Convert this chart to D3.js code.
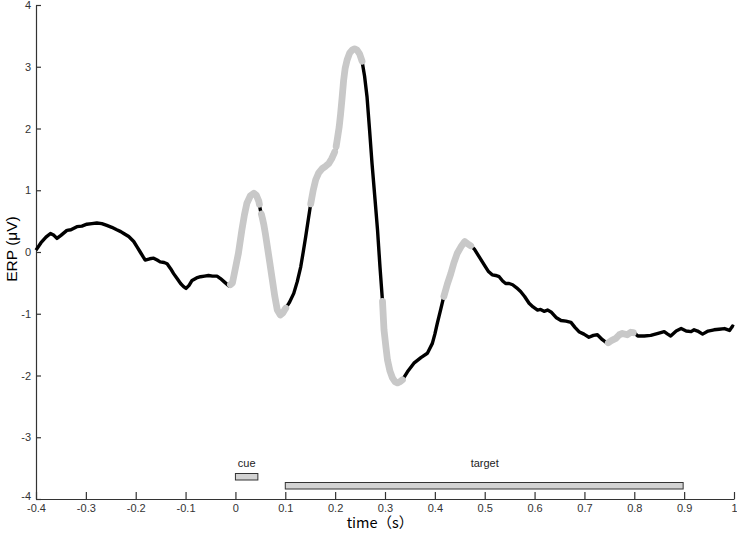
<!DOCTYPE html>
<html>
<head>
<meta charset="utf-8">
<script src="https://cdn.jsdelivr.net/npm/d3@7"></script>
<style>
  html, body { margin: 0; padding: 0; background: #fff; }
  svg { display: block; }
</style>
</head>
<body>
<svg id="chart" width="737" height="534"></svg>
<script>
// ---- data ----
const times = [
  -0.400,-0.390,-0.380,-0.371,-0.364,-0.358,-0.350,-0.338,-0.330,-0.318,-0.308,-0.298,-0.288,-0.278,-0.268,-0.258,-0.248,-0.238,-0.230,-0.224,
  -0.214,-0.204,-0.197,-0.191,-0.185,-0.181,-0.172,-0.164,-0.157,-0.151,-0.143,-0.137,-0.130,-0.124,-0.117,-0.110,-0.104,-0.099,-0.093,-0.087,
  -0.078,-0.070,-0.062,-0.054,-0.046,-0.037,-0.030,-0.023,-0.013,-0.006,0.000,0.006,0.013,0.018,0.023,0.030,0.037,0.042,0.047,0.050,
  0.054,0.057,0.060,0.064,0.069,0.074,0.079,0.084,0.090,0.095,0.100,0.108,0.117,0.124,0.131,0.136,0.141,0.146,0.151,0.156,
  0.161,0.167,0.174,0.181,0.187,0.193,0.197,0.201,0.204,0.208,0.211,0.214,0.217,0.220,0.224,0.229,0.234,0.239,0.244,0.249,
  0.254,0.259,0.264,0.269,0.274,0.280,0.285,0.290,0.295,0.298,0.302,0.305,0.310,0.315,0.320,0.325,0.330,0.335,0.345,0.358,
  0.372,0.385,0.395,0.400,0.405,0.412,0.418,0.425,0.432,0.438,0.445,0.452,0.460,0.466,0.472,0.479,0.489,0.499,0.507,0.515,
  0.522,0.529,0.536,0.542,0.549,0.556,0.564,0.572,0.580,0.589,0.597,0.606,0.612,0.619,0.626,0.633,0.643,0.653,0.663,0.673,
  0.681,0.689,0.699,0.709,0.718,0.726,0.736,0.746,0.755,0.763,0.770,0.776,0.786,0.793,0.800,0.807,0.820,0.833,0.846,0.860,
  0.867,0.873,0.884,0.894,0.904,0.914,0.920,0.927,0.937,0.948,0.960,0.970,0.981,0.991,0.997,1.000
];
const erp = [
  0.03,0.15,0.24,0.30,0.27,0.22,0.27,0.35,0.36,0.41,0.42,0.45,0.46,0.47,0.46,0.43,0.40,0.36,0.33,0.30,
  0.25,0.17,0.08,0.00,-0.08,-0.13,-0.11,-0.10,-0.13,-0.16,-0.17,-0.19,-0.27,-0.35,-0.43,-0.51,-0.56,-0.59,-0.54,-0.46,
  -0.42,-0.40,-0.39,-0.38,-0.39,-0.39,-0.43,-0.48,-0.55,-0.50,-0.26,-0.02,0.36,0.60,0.79,0.91,0.95,0.92,0.82,0.68,
  0.55,0.44,0.30,0.09,-0.18,-0.45,-0.72,-0.94,-1.02,-0.99,-0.92,-0.82,-0.67,-0.48,-0.24,0.00,0.25,0.52,0.78,1.00,
  1.17,1.28,1.35,1.39,1.43,1.51,1.58,1.66,1.81,2.02,2.24,2.50,2.78,2.97,3.11,3.22,3.27,3.29,3.27,3.21,
  3.09,2.85,2.51,1.98,1.43,0.85,0.36,-0.25,-0.80,-1.26,-1.55,-1.75,-1.93,-2.04,-2.10,-2.12,-2.10,-2.07,-1.94,-1.80,
  -1.71,-1.64,-1.48,-1.33,-1.15,-0.92,-0.72,-0.52,-0.35,-0.18,-0.02,0.08,0.17,0.13,0.10,0.05,-0.08,-0.21,-0.31,-0.37,
  -0.38,-0.40,-0.47,-0.51,-0.51,-0.53,-0.58,-0.64,-0.72,-0.83,-0.89,-0.94,-0.93,-0.96,-0.94,-0.97,-1.06,-1.11,-1.12,-1.14,
  -1.22,-1.29,-1.33,-1.38,-1.35,-1.34,-1.42,-1.48,-1.43,-1.40,-1.34,-1.32,-1.34,-1.30,-1.31,-1.36,-1.36,-1.35,-1.32,-1.29,
  -1.33,-1.36,-1.28,-1.24,-1.28,-1.29,-1.26,-1.28,-1.33,-1.28,-1.26,-1.25,-1.24,-1.27,-1.20,-1.21
];
// significant intervals (drawn in light gray)
const sigStart = [-0.010, 0.052, 0.151, 0.202, 0.295, 0.418, 0.748];
const sigEnd   = [ 0.048, 0.101, 0.199, 0.254, 0.335, 0.472, 0.798];
// stimulus events
const eventNames = ["cue", "target"];
const eventStart = [0.0, 0.1];
const eventEnd   = [0.045, 0.898];
const xTicks = [-0.4,-0.3,-0.2,-0.1,0,0.1,0.2,0.3,0.4,0.5,0.6,0.7,0.8,0.9,1];
const yTicks = [-4,-3,-2,-1,0,1,2,3,4];

// ---- layout ----
const svg = d3.select("#chart");
const L = 36, R = 734, T = 5, B = 499;
const x = d3.scaleLinear().domain([-0.4, 1]).range([L, R]);
const y = d3.scaleLinear().domain([-4, 4]).range([B, T]);

const pts = times.map((t, i) => ({t: t, v: erp[i]}));
const line = d3.line().x(d => x(d.t)).y(d => y(d.v));

function valAt(t) {
  for (let i = 1; i < pts.length; i++) {
    if (pts[i].t >= t) {
      const a = pts[i-1], b = pts[i];
      const f = (t - a.t) / (b.t - a.t);
      return a.v + f * (b.v - a.v);
    }
  }
  return pts[pts.length-1].v;
}

// axes
const fmt = d => String(+d.toFixed(1));
const axisFont = "'Liberation Sans', Arial, sans-serif";

const gx = svg.append("g").attr("transform", `translate(0,${B})`)
  .call(d3.axisBottom(x).tickValues(xTicks).tickFormat(fmt)
        .tickSizeInner(-7).tickSizeOuter(0).tickPadding(5));
const gy = svg.append("g").attr("transform", `translate(${L},0)`)
  .call(d3.axisLeft(y).tickValues(yTicks).tickFormat(fmt)
        .tickSizeInner(-5).tickSizeOuter(0).tickPadding(5));
[gx, gy].forEach(g => {
  g.select(".domain").attr("stroke", "#333").attr("stroke-width", 1.2);
  g.selectAll(".tick line").attr("stroke", "#333").attr("stroke-width", 1.2);
  g.selectAll(".tick text").attr("fill", "#333")
    .style("font-family", axisFont).style("font-size", "11px");
});
// lowest y label sits slightly above the corner, as in the original
gy.selectAll(".tick").filter(d => d === -4).select("text").attr("dy", "0.05em");

// black waveform
svg.append("path").datum(pts)
  .attr("d", line)
  .attr("fill", "none")
  .attr("stroke", "#000")
  .attr("stroke-width", 3.4)
  .attr("stroke-linejoin", "round");

// gray significant segments
sigStart.forEach((s, i) => {
  const e = sigEnd[i];
  const seg = [{t: s, v: valAt(s)}]
    .concat(pts.filter(p => p.t > s && p.t < e))
    .concat([{t: e, v: valAt(e)}]);
  svg.append("path").datum(seg)
    .attr("d", line)
    .attr("fill", "none")
    .attr("stroke", "#c8c8c8")
    .attr("stroke-width", 6.8)
    .attr("stroke-linejoin", "round")
    .attr("stroke-linecap", "round");
});

// event bars
const barY = [473.5, 482.5];
const barH = 6.5;
eventNames.forEach((n, i) => {
  svg.append("rect")
    .attr("x", x(eventStart[i])).attr("y", barY[i])
    .attr("width", x(eventEnd[i]) - x(eventStart[i])).attr("height", barH)
    .attr("fill", "#d3d3d3").attr("stroke", "#333").attr("stroke-width", 1);
  svg.append("text")
    .attr("x", i === 0 ? x((eventStart[i] + eventEnd[i]) / 2) : x(0.5))
    .attr("y", 467)
    .attr("text-anchor", "middle")
    .style("font-family", axisFont).style("font-size", "11px")
    .attr("fill", "#222")
    .text(n);
});

// axis titles
svg.append("text")
  .attr("x", 380).attr("y", 528)
  .attr("text-anchor", "middle")
  .style("font-family", "'Noto Sans CJK SC', 'DejaVu Sans', sans-serif")
  .style("font-size", "14.5px")
  .attr("fill", "#000")
  .text("time（s）");

svg.append("text")
  .attr("transform", "translate(17,249) rotate(-90)")
  .attr("text-anchor", "middle")
  .style("font-family", axisFont)
  .style("font-size", "15.5px")
  .attr("fill", "#000")
  .text("ERP (μV)");
</script>
</body>
</html>
